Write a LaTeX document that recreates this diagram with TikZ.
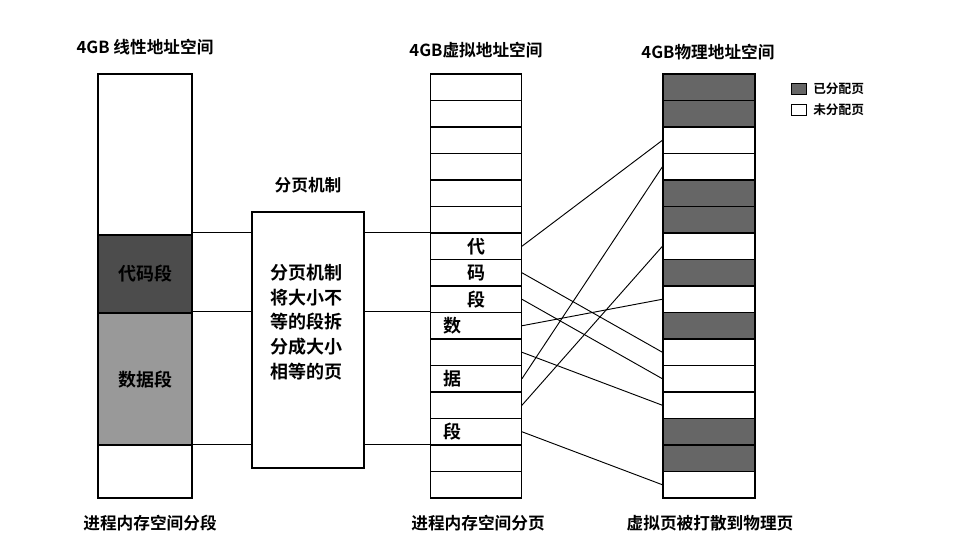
\documentclass[tikz,border=0pt]{standalone}
\usepackage{fontspec}
\newfontfamily\cjk{Noto Sans CJK SC Bold}
\usepackage{tikz}

\begin{document}
\begin{tikzpicture}[x=0.75pt,y=-0.75pt,line width=0.9pt,
	lbl/.style={font=\cjk\fontsize{12.5}{14}\selectfont},
	big/.style={font=\cjk\fontsize{13.5}{18.5}\selectfont},
	used/.style={draw,fill=black!60},
	free/.style={draw,fill=white}]
	\useasboundingbox (0,0) rectangle (966,558);
	% linear address space
	\draw (98,74) rectangle (192,498);
	\draw[fill=black!70] (98,235) rectangle (192,313);
	\draw[fill=black!40] (98,313) rectangle (192,445);
	\node[big] (code) at (145,274) {代码段};
	\node[big] (data) at (145,380) {数据段};
	% paging box
	\node[draw,minimum width=84pt,minimum height=192pt] (pg) at (308,340) {};
	\node[big,align=left] (pgtxt) at (306,322) {分页机制\\将大小不\\等的段拆\\分成大小\\相等的页};
	\node[lbl] (pgname) at (308,185) {分页机制};
	% virtual pages
	\foreach \i in {0,...,15}
		\node[draw,minimum width=68pt,minimum height=19.9pt,inner sep=0pt] (v\i) at (476,{87.25+26.5*\i}) {};
	% physical pages
	\foreach \i in {0,...,15}
		\node[free,minimum width=69pt,minimum height=19.9pt,inner sep=0pt] (p\i) at (709,{87.25+26.5*\i}) {};
	\foreach \i in {0,1,4,5,7,9,13,14}
		\node[used,minimum width=69pt,minimum height=19.9pt,inner sep=0pt] at (p\i) {};
	% segment borders
	\coordinate (lc) at (192,0);
	\foreach \r in {6,9,14}{
		\draw (lc |- v\r.north) -- (pg.west |- v\r.north);
		\draw (pg.east |- v\r.north) -- (v\r.north west);
	}
	% labels in virtual pages
	\coordinate (ca) at (476,0);
	\coordinate (cb) at (452,0);
	\node[big] at (ca |- v6) {代};
	\node[big] at (ca |- v7) {码};
	\node[big] at (ca |- v8) {段};
	\node[big] at (cb |- v9) {数};
	\node[big] at (cb |- v11) {据};
	\node[big] at (cb |- v13) {段};
	% mapping
	\foreach \a/\b in {6/2,7/10,8/11,9/8,10/12,11/3,12/6,13/15}
		\draw[line width=0.7pt] (v\a.east) -- (p\b.west);
	% legend
	\node[used,minimum width=11pt,minimum height=8pt,inner sep=0pt] (k1) at (799,89) {};
	\node[free,minimum width=11pt,minimum height=8pt,inner sep=0pt] (k2) at (799,110) {};
	\node[font=\cjk\fontsize{9.5}{10}\selectfont,anchor=west] at ([xshift=1pt]k1.east) {已分配页};
	\node[font=\cjk\fontsize{9.5}{10}\selectfont,anchor=west] at ([xshift=1pt]k2.east) {未分配页};
	% titles
	\node[lbl] at (145,47) {4GB 线性地址空间};
	\node[lbl] at (476,50) {4GB虚拟地址空间};
	\node[lbl] at (708,52) {4GB物理地址空间};
	\node[lbl] at (150,523) {进程内存空间分段};
	\node[lbl] at (478,523) {进程内存空间分页};
	\node[lbl] at (710,523) {虚拟页被打散到物理页};
\end{tikzpicture}
\end{document}
